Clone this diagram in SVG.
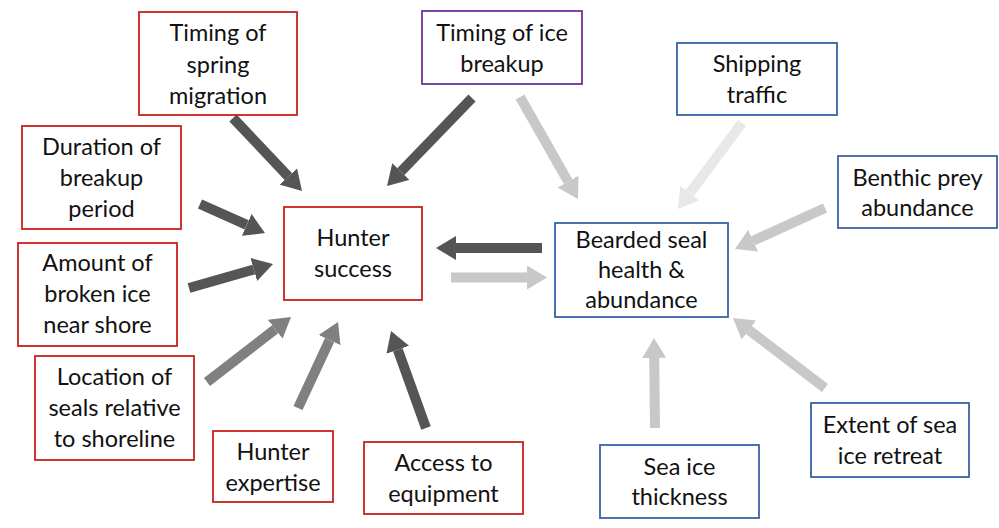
<svg xmlns="http://www.w3.org/2000/svg" width="999" height="528" viewBox="0 0 999 528">
  <style>
    .box { fill: #ffffff; stroke-width: 1.8; }
    .red { stroke: #c9211e; }
    .purple { stroke: #7030a0; }
    .blue { stroke: #3b62a8; }
    text { font-family: Lato, "Liberation Sans", sans-serif; font-size: 23.5px; fill: #111111; text-anchor: middle; }
    .arrow { stroke-width: 10; fill: none; }
    .dark { stroke: #555555; }
    .mid { stroke: #808080; }
    .light { stroke: #c8c8c8; }
    .faint { stroke: #e8e8e8; }
  </style>
  <defs>
    <marker id="head-dark" markerUnits="userSpaceOnUse" markerWidth="20" markerHeight="24" viewBox="0 0 20 24" refX="0" refY="12" orient="auto">
      <path d="M0,0 L20,12 L0,24 z" fill="#555555"/>
    </marker>
    <marker id="head-mid" markerUnits="userSpaceOnUse" markerWidth="20" markerHeight="24" viewBox="0 0 20 24" refX="0" refY="12" orient="auto">
      <path d="M0,0 L20,12 L0,24 z" fill="#808080"/>
    </marker>
    <marker id="head-light" markerUnits="userSpaceOnUse" markerWidth="20" markerHeight="24" viewBox="0 0 20 24" refX="0" refY="12" orient="auto">
      <path d="M0,0 L20,12 L0,24 z" fill="#c8c8c8"/>
    </marker>
    <marker id="head-faint" markerUnits="userSpaceOnUse" markerWidth="20" markerHeight="24" viewBox="0 0 20 24" refX="0" refY="12" orient="auto">
      <path d="M0,0 L20,12 L0,24 z" fill="#e8e8e8"/>
    </marker>
  </defs>

  <rect width="999" height="528" fill="#ffffff"/>

  <g id="connectors">
    <line class="arrow dark" x1="233" y1="118" x2="288.3" y2="176.5" marker-end="url(#head-dark)"/>
    <line class="arrow dark" x1="472" y1="98" x2="400.9" y2="171.6" marker-end="url(#head-dark)"/>
    <line class="arrow light" x1="520" y1="97" x2="568.1" y2="181.6" marker-end="url(#head-light)"/>
    <line class="arrow faint" x1="742" y1="123" x2="689.9" y2="193" marker-end="url(#head-faint)"/>
    <line class="arrow light" x1="825" y1="208" x2="753.2" y2="240.7" marker-end="url(#head-light)"/>
    <line class="arrow dark" x1="200" y1="204" x2="246.7" y2="224.9" marker-end="url(#head-dark)"/>
    <line class="arrow dark" x1="189" y1="288" x2="253.8" y2="269.5" marker-end="url(#head-dark)"/>
    <line class="arrow dark" x1="542" y1="248" x2="456" y2="248" marker-end="url(#head-dark)"/>
    <line class="arrow light" x1="451" y1="277.5" x2="527" y2="277.5" marker-end="url(#head-light)"/>
    <line class="arrow mid" x1="207" y1="382" x2="275.2" y2="329.2" marker-end="url(#head-mid)"/>
    <line class="arrow mid" x1="298" y1="408" x2="329.6" y2="340.1" marker-end="url(#head-mid)"/>
    <line class="arrow dark" x1="426" y1="428" x2="397.8" y2="349.8" marker-end="url(#head-dark)"/>
    <line class="arrow light" x1="655" y1="428" x2="654.2" y2="358" marker-end="url(#head-light)"/>
    <line class="arrow light" x1="825" y1="388" x2="748.9" y2="330.1" marker-end="url(#head-light)"/>
  </g>

  <g id="spring-migration">
    <rect class="box red" x="139" y="12" width="158" height="103"/>
    <text x="218" y="41">Timing of</text>
    <text x="218" y="73">spring</text>
    <text x="218" y="104">migration</text>
  </g>

  <g id="ice-breakup">
    <rect class="box purple" x="422" y="11" width="160" height="73"/>
    <text x="502" y="40.5">Timing of ice</text>
    <text x="502" y="71.5">breakup</text>
  </g>

  <g id="shipping-traffic">
    <rect class="box blue" x="677" y="43" width="160" height="72"/>
    <text x="757" y="72">Shipping</text>
    <text x="757" y="103">traffic</text>
  </g>

  <g id="breakup-duration">
    <rect class="box red" x="22" y="126" width="159" height="103"/>
    <text x="101.5" y="154.5">Duration of</text>
    <text x="101.5" y="185.5">breakup</text>
    <text x="101.5" y="216.5">period</text>
  </g>

  <g id="hunter-success">
    <rect class="box red" x="284" y="207" width="138" height="93"/>
    <text x="353" y="246">Hunter</text>
    <text x="353" y="277">success</text>
  </g>

  <g id="bearded-seal">
    <rect class="box blue" x="555" y="223" width="173" height="94"/>
    <text x="641.5" y="248">Bearded seal</text>
    <text x="641.5" y="278">health &amp;</text>
    <text x="641.5" y="308">abundance</text>
  </g>

  <g id="benthic-prey">
    <rect class="box blue" x="838" y="156" width="159" height="72"/>
    <text x="917.5" y="185.5">Benthic prey</text>
    <text x="917.5" y="215.5">abundance</text>
  </g>

  <g id="broken-ice">
    <rect class="box red" x="18" y="243" width="159" height="103"/>
    <text x="97.5" y="271">Amount of</text>
    <text x="97.5" y="302">broken ice</text>
    <text x="97.5" y="333">near shore</text>
  </g>

  <g id="seal-location">
    <rect class="box red" x="35" y="356" width="159" height="104"/>
    <text x="114.5" y="385">Location of</text>
    <text x="114.5" y="416">seals relative</text>
    <text x="114.5" y="447">to shoreline</text>
  </g>

  <g id="hunter-expertise">
    <rect class="box red" x="213" y="431" width="120" height="71"/>
    <text x="273" y="460">Hunter</text>
    <text x="273" y="491">expertise</text>
  </g>

  <g id="equipment-access">
    <rect class="box red" x="364" y="442" width="159" height="72"/>
    <text x="443.5" y="471">Access to</text>
    <text x="443.5" y="502">equipment</text>
  </g>

  <g id="ice-thickness">
    <rect class="box blue" x="600" y="445" width="159" height="73"/>
    <text x="679.5" y="475">Sea ice</text>
    <text x="679.5" y="505">thickness</text>
  </g>

  <g id="ice-retreat">
    <rect class="box blue" x="811" y="403" width="158" height="74"/>
    <text x="890" y="433">Extent of sea</text>
    <text x="890" y="464">ice retreat</text>
  </g>
</svg>
